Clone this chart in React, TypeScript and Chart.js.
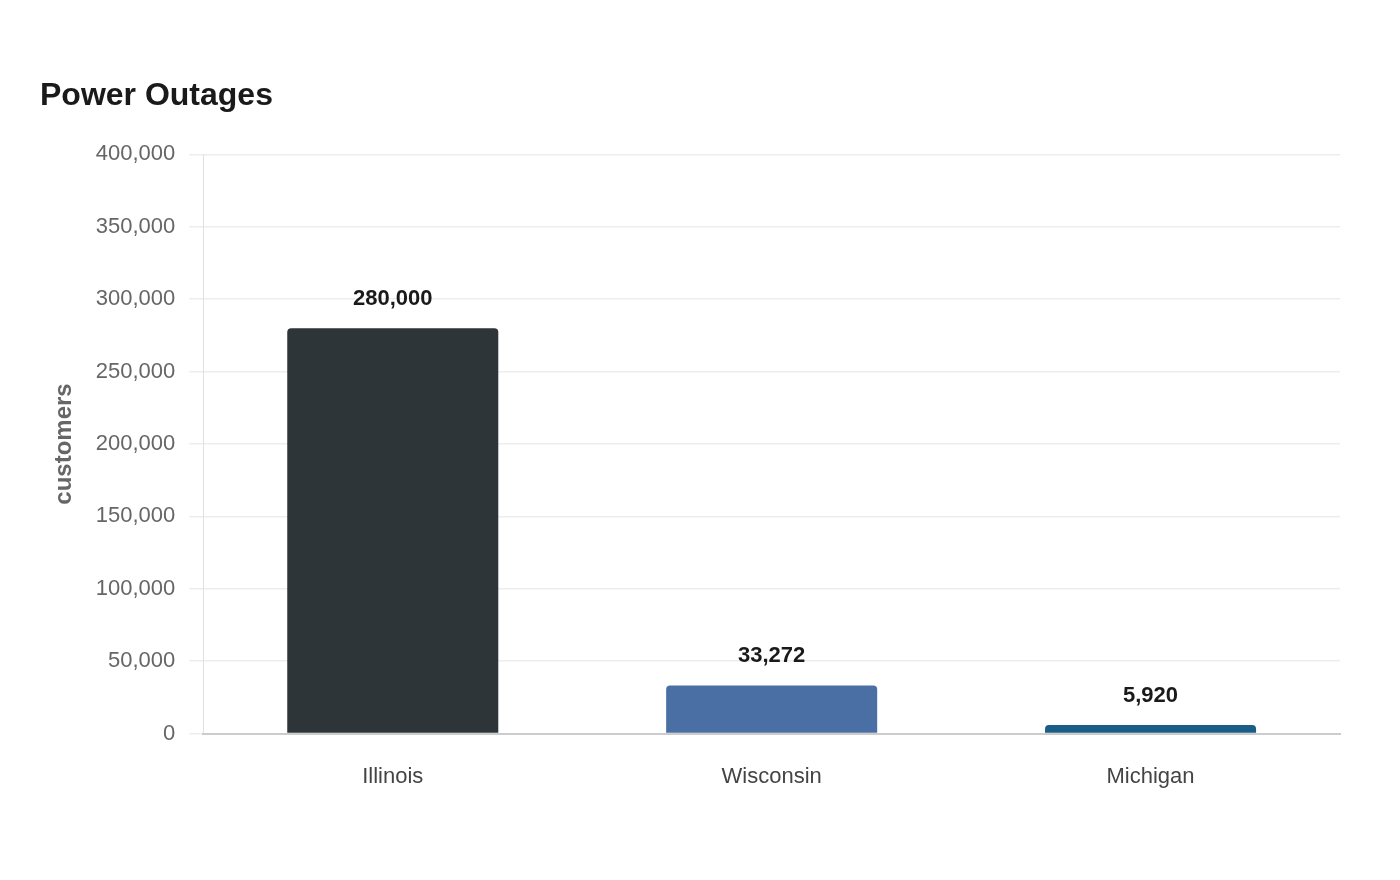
import { useEffect, useRef } from "react";
import { Chart, registerables, type ChartConfiguration, type Plugin } from "chart.js";

Chart.register(...registerables);

const STATES = ["Illinois", "Wisconsin", "Michigan"];
const CUSTOMERS = [280000, 33272, 5920];
const BAR_COLORS = ["#2e3538", "#4a6fa5", "#1a5e87"];

const FONT = "'Liberation Sans', Arial, sans-serif";

// value labels drawn above each bar
const valueLabels: Plugin<"bar"> = {
  id: "valueLabels",
  afterDatasetsDraw(chart) {
    const { ctx } = chart;
    const meta = chart.getDatasetMeta(0);
    ctx.save();
    ctx.font = `bold 22px ${FONT}`;
    ctx.fillStyle = "#1a1a1a";
    ctx.textAlign = "center";
    ctx.textBaseline = "middle";
    meta.data.forEach((bar, i) => {
      ctx.fillText(CUSTOMERS[i].toLocaleString("en-US"), bar.x, bar.y - 29);
    });
    ctx.restore();
  },
};

export default function App() {
  const canvasRef = useRef<HTMLCanvasElement>(null);

  useEffect(() => {
    if (!canvasRef.current) return;
    const config: ChartConfiguration<"bar"> = {
      type: "bar",
      data: {
        labels: STATES,
        datasets: [
          {
            label: "customers",
            data: CUSTOMERS,
            backgroundColor: BAR_COLORS,
            borderRadius: 4,
            categoryPercentage: 1,
            barPercentage: 0.557,
          },
        ],
      },
      options: {
        animation: false,
        responsive: true,
        maintainAspectRatio: false,
        layout: { padding: { left: 40, right: 60, top: 62, bottom: 68 } },
        plugins: {
          legend: { display: false },
          tooltip: { enabled: false },
          title: {
            display: true,
            text: "Power Outages",
            align: "start",
            color: "#1a1a1a",
            font: { family: FONT, size: 32, weight: "bold" },
            padding: { top: 15, bottom: 39 },
          },
        },
        scales: {
          y: {
            min: 0,
            max: 400000,
            ticks: {
              stepSize: 50000,
              color: "#666666",
              padding: 14,
              font: { family: FONT, size: 22 },
              callback: (v) => Number(v).toLocaleString("en-US"),
            },
            grid: { color: "#ededed", lineWidth: 1.5, tickLength: 14, tickColor: "#ededed" },
            border: { color: "#e0e0e0" },
            title: {
              display: true,
              text: "customers",
              color: "#666666",
              font: { family: FONT, size: 24, weight: "bold" },
              padding: { top: 10, bottom: 3 },
            },
          },
          x: {
            ticks: { color: "#444444", padding: 22, font: { family: FONT, size: 22 } },
            grid: { display: false },
            border: { color: "#cccccc", width: 2 },
          },
        },
      },
      plugins: [valueLabels],
    };
    const chart = new Chart(canvasRef.current, config);
    return () => chart.destroy();
  }, []);

  return (
    <div style={{ position: "fixed", left: 0, top: 0, width: 1400, height: 880, background: "#ffffff" }}>
      <canvas ref={canvasRef} />
    </div>
  );
}
